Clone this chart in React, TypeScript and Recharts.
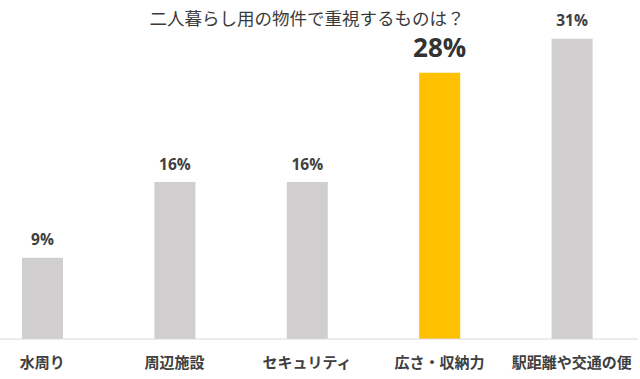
import React from 'react';
import { BarChart, Bar, XAxis, YAxis, Cell, LabelList } from 'recharts';

const title = '二人暮らし用の物件で重視するものは？';
const categories = ['水周り', '周辺施設', 'セキュリティ', '広さ・収納力', '駅距離や交通の便'];
const values = [8.4, 16.2, 16.2, 27.5, 31.0];
const valueLabels = ['9%', '16%', '16%', '28%', '31%'];
const highlightIndex = 3;

const data = categories.map((name, i) => ({ name, value: values[i], label: valueLabels[i] }));

const GRAY = '#D0CECE';
const YELLOW = '#FFC000';
const FONT = '"Noto Sans CJK JP", "Open Sans", sans-serif';

const renderLabel = (props: any) => {
  const { x, y, width, index } = props;
  const big = index === highlightIndex;
  return (
    <text
      x={Number(x) + Number(width) / 2}
      y={Number(y) - (big ? 16 : 12.5)}
      textAnchor="middle"
      fontFamily={'"Open Sans", sans-serif'}
      fontWeight="bold"
      fontSize={big ? 26 : 15.5}
      fill={big ? '#333333' : '#404040'}
    >
      {valueLabels[index]}
    </text>
  );
};

export default function App() {
  return (
    <div style={{ position: 'fixed', left: 0, top: 0, width: 640, height: 379, overflow: 'hidden', background: '#fff' }}>
      <div
        style={{
          position: 'absolute',
          left: 0,
          width: 614,
          top: 6,
          textAlign: 'center',
          fontFamily: FONT,
          fontSize: 17.5,
          lineHeight: '24px',
          color: '#3a3a3a',
        }}
      >
        {title}
      </div>
      <div style={{ position: 'absolute', left: -24.5, top: 0 }}>
        <BarChart width={662} height={379} data={data} margin={{ top: 0, right: 0, left: 0, bottom: 0 }}>
          <YAxis hide domain={[0, 35]} />
          <XAxis
            dataKey="name"
            interval={0}
            height={40}
            tickLine={false}
            axisLine={{ stroke: '#D9D9D9', strokeWidth: 1 }}
            tickMargin={12}
            tick={{ fontFamily: FONT, fontSize: 15, fontWeight: 'bold', fill: '#404040' }}
          />
          <Bar dataKey="value" barSize={41} isAnimationActive={false}>
            {data.map((d, i) => (
              <Cell key={d.name} fill={i === highlightIndex ? YELLOW : GRAY} />
            ))}
            <LabelList dataKey="label" content={renderLabel} />
          </Bar>
        </BarChart>
      </div>
    </div>
  );
}
